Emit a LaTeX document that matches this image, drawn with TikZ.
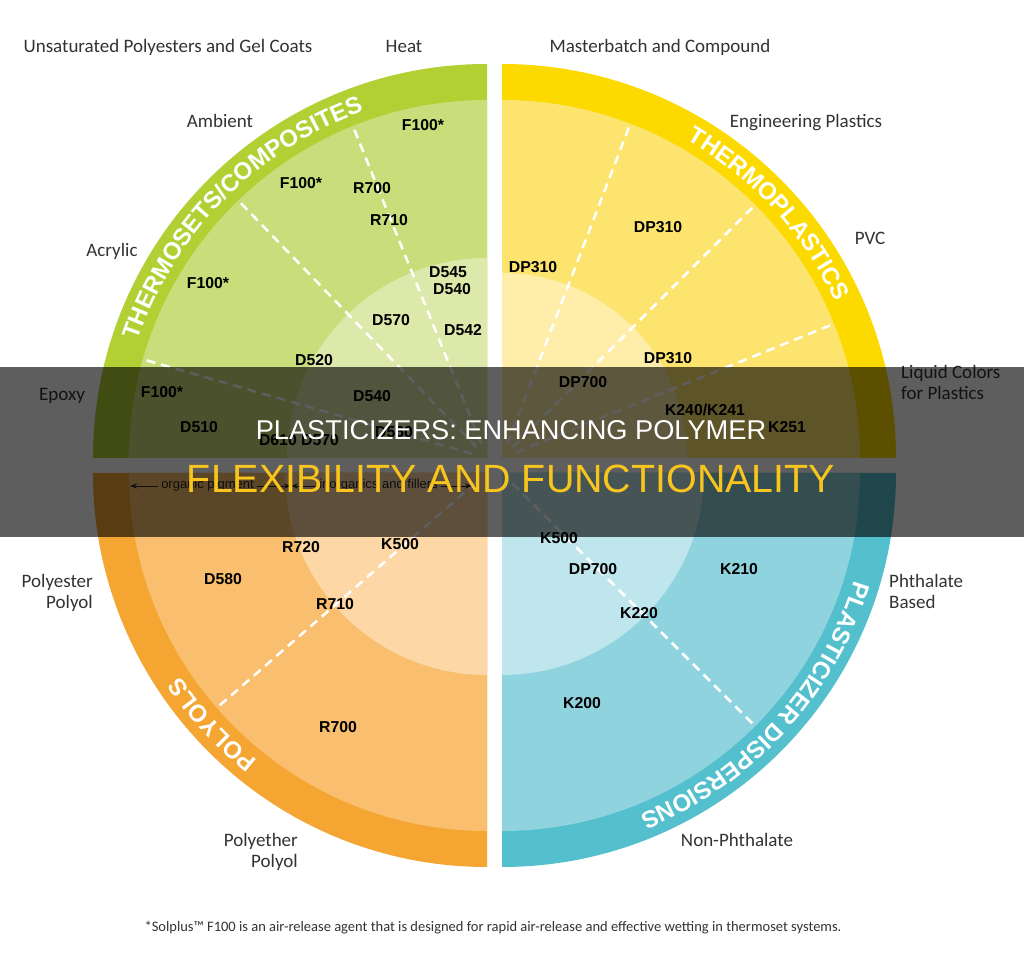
\documentclass[tikz,border=0pt]{standalone}
\usepackage{fontspec}
\setmainfont{Liberation Sans}
\newfontfamily\labfont{Carlito}
\usetikzlibrary{decorations.text,arrows.meta}
\definecolor{gband}{HTML}{B2D034}
\definecolor{gmid}{HTML}{C9DE7A}
\definecolor{ginn}{HTML}{DDE9AA}
\definecolor{yband}{HTML}{FCDA00}
\definecolor{ymid}{HTML}{FDE46E}
\definecolor{yinn}{HTML}{FEEEAA}
\definecolor{oband}{HTML}{F5A532}
\definecolor{omid}{HTML}{F9BE6E}
\definecolor{oinn}{HTML}{FDD7A5}
\definecolor{tband}{HTML}{55C0CD}
\definecolor{tmid}{HTML}{8ED3DE}
\definecolor{tinn}{HTML}{BEE6EC}
\definecolor{labgray}{HTML}{333333}
\definecolor{titleyellow}{HTML}{F7C51E}
\newcommand\qdisk[5]{\fill[#5] (#1) -- ++(#2:#4) arc[start angle=#2,end angle=#3,radius=#4] -- cycle;}
\newcommand\bandfnt{\bfseries\fontsize{24}{24}\selectfont}
\begin{document}
\begin{tikzpicture}[x=1pt,y=1pt,
  lab/.style={font=\labfont\fontsize{19}{21}\selectfont, text=labgray, inner sep=0pt},
  code/.style={font=\bfseries\fontsize{15.8}{16}\selectfont, text=black, inner sep=0pt, text height=11.3pt, text depth=0pt},
  sep/.style={white, line width=2.5pt, dash pattern=on 9pt off 6pt},
  arrtxt/.style={font=\fontsize{13}{14}\selectfont, text=black!85, inner sep=3pt, text height=6pt, text depth=0pt},
  arr/.style={-{Stealth[length=7pt,width=5pt]}, line width=0.8pt, black!85},
  bandtxt/.style={decorate, decoration={text along path, text align=center, text={|\bandfnt\color{white}|#1}}}
]
\useasboundingbox (0,0) rectangle (1024,968);
\fill[white] (0,0) rectangle (1024,968);
\coordinate (G) at (487,510);
\coordinate (Y) at (502,510);
\coordinate (O) at (487,495);
\coordinate (T) at (502,495);
% quadrants
\qdisk{G}{180}{90}{394}{gband}
\qdisk{G}{180}{90}{358}{gmid}
\qdisk{G}{180}{90}{200}{ginn}
\qdisk{Y}{90}{0}{394}{yband}
\qdisk{Y}{90}{0}{358}{ymid}
\qdisk{Y}{90}{0}{185}{yinn}
\qdisk{O}{180}{270}{394}{oband}
\qdisk{O}{180}{270}{358}{omid}
\qdisk{O}{180}{270}{202}{oinn}
\qdisk{T}{270}{360}{394}{tband}
\qdisk{T}{270}{360}{358}{tmid}
\qdisk{T}{270}{360}{202}{tinn}
% dashed separators
\foreach \a in {112,134,164} \draw[sep] (G) ++(\a:15) -- ++(\a:343);
\foreach \a in {69,45,22} \draw[sep] (Y) ++(\a:15) -- ++(\a:343);
\draw[sep] (O) ++(221:15) -- ++(221:343);
\draw[sep] (T) ++(315:15) -- ++(315:343);
% band titles
\path[bandtxt={THERMOSETS/COMPOSITES}] (G) ++(180:368) arc[start angle=180,end angle=91,radius=368];
\path[bandtxt={THERMOPLASTICS}] (Y) ++(85:368) arc[start angle=85,end angle=0,radius=368];
\path[bandtxt={POLYOLS}] (O) ++(265:368) arc[start angle=265,end angle=180,radius=368];
\path[bandtxt={PLASTICIZER DISPERSIONS}] (T) ++(0:368) arc[start angle=0,end angle=-85,radius=368];
% outer labels
\node[lab, anchor=base] (unsat) at (168,915) {Unsaturated Polyesters and Gel Coats};
\node[lab, anchor=base] (heat) at (404,915) {Heat};
\node[lab, anchor=base] (master) at (660,915) {Masterbatch and Compound};
\node[lab, anchor=base] (amb) at (220,840) {Ambient};
\node[lab, anchor=base] (eng) at (806,840) {Engineering Plastics};
\node[lab, anchor=base] (acr) at (112,711) {Acrylic};
\node[lab, anchor=base] (pvc) at (870,723) {PVC};
\node[lab, anchor=base] (epo) at (62,567) {Epoxy};
\node[lab, anchor=base west, align=left] (liq) at (901,568) {Liquid Colors\\for Plastics};
\node[lab, anchor=base east, align=right] (pes) at (93,359) {Polyester\\Polyol};
\node[lab, anchor=base west, align=left] (pht) at (889,359) {Phthalate\\Based};
\node[lab, anchor=base east, align=right] (pet) at (298,100) {Polyether\\Polyol};
\node[lab, anchor=base] (nonp) at (737,121) {Non-Phthalate};
\node[lab, anchor=base, font=\labfont\fontsize{14.5}{17}\selectfont] (foot) at (493,36) {*Solplus™ F100 is an air-release agent that is designed for rapid air-release and effective wetting in thermoset systems.};
% green codes
\node[code] (g1) at (423,843) {F100*};
\node[code] (g2) at (301,785) {F100*};
\node[code] (g3) at (372,780) {R700};
\node[code] (g4) at (389,748) {R710};
\node[code] (g5) at (448,696) {D545};
\node[code] (g6) at (452,679) {D540};
\node[code] (g7) at (391,648) {D570};
\node[code] (g8) at (463,638) {D542};
\node[code] (g9) at (208,685) {F100*};
\node[code] (g10) at (314,608) {D520};
\node[code] (g11) at (162,576) {F100*};
\node[code] (g12) at (372,572) {D540};
\node[code] (g13) at (199,541) {D510};
\node[code] (g14) at (299,528) {D610 D570};
\node[code] (g15) at (394,536) {D560};
% yellow codes
\node[code] (y1) at (658,741) {DP310};
\node[code] (y2) at (533,701) {DP310};
\node[code] (y3) at (668,610) {DP310};
\node[code] (y4) at (583,586) {DP700};
\node[code] (y5) at (705,558) {K240/K241};
\node[code] (y6) at (787,541) {K251};
% orange codes
\node[code] (o1) at (301,421) {R720};
\node[code] (o2) at (400,424) {K500};
\node[code] (o3) at (223,389) {D580};
\node[code] (o4) at (335,364) {R710};
\node[code] (o5) at (338,241) {R700};
% teal codes
\node[code] (t1) at (559,430) {K500};
\node[code] (t2) at (593,399) {DP700};
\node[code] (t3) at (739,399) {K210};
\node[code] (t4) at (639,355) {K220};
\node[code] (t5) at (582,265) {K200};
% pigment scale
\node[arrtxt] (org) at (207.5,482) {organic pigment};
\node[arrtxt] (inorg) at (378.5,482) {inorganics and fillers};
\coordinate (aL) at (130,482);
\coordinate (aM) at (291,482);
\coordinate (aR) at (472,482);
\draw[arr] (org.west) -- (aL);
\draw[arr] (org.east) -- (aM);
\draw[arr] (inorg.west) -- (aM);
\draw[arr] (inorg.east) -- (aR);
% banner
\fill[black, fill opacity=0.63] (0,431) rectangle (1024,601);
\node[anchor=base, font=\fontsize{27.2}{30}\selectfont, text=white, inner sep=0pt] (title1) at (511,528) {PLASTICIZERS: ENHANCING POLYMER};
\node[anchor=base, font=\fontsize{39.4}{42}\selectfont, text=titleyellow, inner sep=0pt] (title2) at (511,475) {FLEXIBILITY AND FUNCTIONALITY};
\end{tikzpicture}
\end{document}
